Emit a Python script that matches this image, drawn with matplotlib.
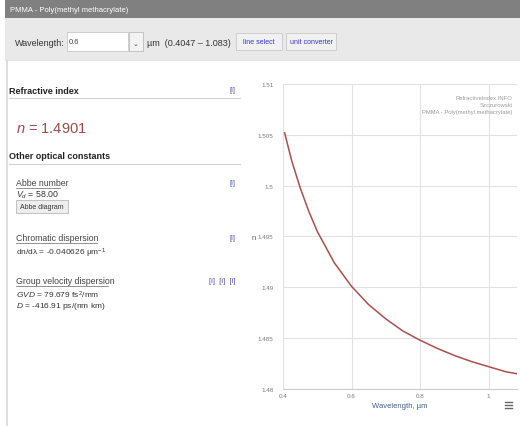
import matplotlib
matplotlib.use("Agg")
import matplotlib.pyplot as plt
from matplotlib.patches import Rectangle
from matplotlib import font_manager as fm

# ---------------- data ----------------
wavelength = [0.4047, 0.425, 0.45, 0.475, 0.5, 0.55, 0.6, 0.65, 0.7, 0.75,
              0.8, 0.85, 0.9, 0.95, 1.0, 1.05, 1.083]
n_values = [1.5052, 1.5025, 1.4998, 1.4975, 1.4955, 1.4924, 1.4901, 1.4883,
            1.4869, 1.4857, 1.4848, 1.4840, 1.4833, 1.4827, 1.4822, 1.4817, 1.4815]
y_ticks = [1.48, 1.485, 1.49, 1.495, 1.5, 1.505, 1.51]
y_tick_labels = ["1.48", "1.485", "1.49", "1.495", "1.5", "1.505", "1.51"]
x_ticks = [0.4, 0.6, 0.8, 1.0]
x_tick_labels = ["0.4", "0.6", "0.8", "1"]

# ---------------- fonts ----------------
def pick(names):
    for nm in names:
        try:
            fm.findfont(nm, fallback_to_default=False)
            return nm
        except Exception:
            pass
    return "DejaVu Sans"

FONT = pick(["Liberation Sans Narrow", "Liberation Sans", "DejaVu Sans"])
plt.rcParams['font.family'] = [FONT, 'DejaVu Sans']
plt.rcParams['mathtext.fontset'] = 'custom'
plt.rcParams['mathtext.rm'] = FONT
plt.rcParams['mathtext.it'] = FONT + ':italic'
plt.rcParams['mathtext.bf'] = FONT + ':bold'

W, H = 520, 427
fig = plt.figure(figsize=(W / 100, H / 100), dpi=100)
fig.patch.set_facecolor("white")

# page background axes in pixel coordinates
bg = fig.add_axes([0, 0, 1, 1])
bg.set_xlim(0, W)
bg.set_ylim(H, 0)
bg.axis("off")

# title bar
bg.add_patch(Rectangle((5, 1), W - 5, 18, color="#808080", lw=0))
bg.text(10, 10, "PMMA - Poly(methyl methacrylate)", color="white", fontsize=5.5,
        va="center", ha="left")
# wavelength toolbar
bg.add_patch(Rectangle((5, 19), W - 5, 43, color="#e9e9e9", lw=0))
bg.text(15, 43, "Wavelength:", fontsize=6.5, va="center", ha="left", color="#333333")
bg.add_patch(Rectangle((67, 33), 61, 19, facecolor="white", edgecolor="#c8c8c8", lw=0.6))
bg.text(69, 43, "0.6", fontsize=5.5, va="center", ha="left", color="#444444")
bg.add_patch(Rectangle((129, 33), 14, 19, facecolor="#f3f3f3", edgecolor="#bbbbbb", lw=0.6))
bg.text(136, 44, "\u2304", fontsize=5, va="center", ha="center", color="#444444",
        family=['DejaVu Sans'])
bg.text(147, 43, "\u00b5m  (0.4047 \u2013 1.083)", fontsize=6.5, va="center", ha="left",
        color="#333333")
bg.add_patch(Rectangle((236, 34), 46, 17, facecolor="#f1f1f1", edgecolor="#c8c8c8", lw=0.6))
bg.text(259, 42.5, "line select", fontsize=5, va="center", ha="center", color="#3333cc")
bg.add_patch(Rectangle((286, 34), 50, 17, facecolor="#f1f1f1", edgecolor="#c8c8c8", lw=0.6))
bg.text(311, 42.5, "unit converter", fontsize=5, va="center", ha="center", color="#3333cc")

# left panel border
bg.plot([7, 7], [62, H], color="#d8d8d8", lw=1.2)

# Refractive index section
bg.text(9, 91, "Refractive index", fontsize=6.5, fontweight="bold", va="center",
        ha="left", color="#222222")
bg.text(233, 91, "[i]", fontsize=5.5, va="center", ha="center", color="#5555bb")
bg.plot([9, 240], [98.5, 98.5], color="#cfcfcf", lw=0.7)
bg.text(16, 129, "$n$ = 1.4901", fontsize=10.5, va="center", ha="left", color="#a04a44")

bg.text(9, 157, "Other optical constants", fontsize=6.5, fontweight="bold", va="center",
        ha="left", color="#222222")
bg.plot([9, 240], [164.5, 164.5], color="#cfcfcf", lw=0.7)

# Abbe number
bg.text(16, 184, "Abbe number", fontsize=6.3, va="center", ha="left", color="#444444")
bg.plot([16, 60], [189, 189], color="#666666", lw=0.5)
bg.text(233, 184, "[i]", fontsize=5.5, va="center", ha="center", color="#5555bb")
bg.text(16, 195, "$V_d$ = 58.00", fontsize=6.3, va="center", ha="left", color="#333333")
bg.add_patch(Rectangle((16, 201), 52, 13, facecolor="#eeeeee", edgecolor="#b8b8b8", lw=0.6))
bg.text(42, 207.5, "Abbe diagram", fontsize=5, va="center", ha="center", color="#333333")

# Chromatic dispersion
bg.text(16, 239, "Chromatic dispersion", fontsize=6.3, va="center", ha="left", color="#444444")
bg.plot([16, 97], [244, 244], color="#666666", lw=0.5)
bg.text(233, 239, "[i]", fontsize=5.5, va="center", ha="center", color="#5555bb")
bg.text(16, 253, "dn/d\u03bb = -0.040626 \u00b5m$^{-1}$", fontsize=6.0, va="center",
        ha="left", color="#333333")

# Group velocity dispersion
bg.text(16, 282, "Group velocity dispersion", fontsize=6.3, va="center", ha="left",
        color="#444444")
bg.plot([16, 108], [287, 287], color="#666666", lw=0.5)
bg.text(222, 282, "[i]  [i]  [i]", fontsize=5.5, va="center", ha="center", color="#5555bb")
bg.text(16, 295, "$GVD$ = 79.679 fs$^2$/mm", fontsize=6.0, va="center", ha="left",
        color="#333333")
bg.text(16, 307, "$D$ = -416.91 ps/(nm km)", fontsize=6.0, va="center", ha="left",
        color="#333333")

# chart-area extras
bg.text(254, 239, "n", fontsize=5.5, va="center", ha="center", color="#3f5f8f")
bg.text(400, 407, "Wavelength, \u00b5m", fontsize=5.5, va="center", ha="center",
        color="#3f5f8f")
for yy in (403, 406, 409):
    bg.plot([505, 512], [yy, yy], color="#666666", lw=1.0)

# ---------------- chart ----------------
left, right, top, bottom = 283, 517, 85, 390
ax = fig.add_axes([left / W, 1 - bottom / H, (right - left) / W, (bottom - top) / H])
ax.set_facecolor("white")
ax.plot(wavelength, n_values, color="#a8504c", lw=1.1)
ax.set_xlim(0.4, 1.083)
ax.set_ylim(1.48, 1.51)
ax.set_xticks(x_ticks)
ax.set_xticklabels(x_tick_labels)
ax.set_yticks(y_ticks)
ax.set_yticklabels(y_tick_labels)
ax.grid(True, color="#e2e2e2", lw=0.8)
ax.set_axisbelow(True)
for s in ("top", "right", "left"):
    ax.spines[s].set_visible(False)
ax.spines["bottom"].set_color("#cccccc")
ax.spines["bottom"].set_linewidth(0.8)
ax.tick_params(axis="y", length=0, labelsize=4.5, labelcolor="#777777", pad=7)
ax.tick_params(axis="x", length=0, labelsize=4.5, labelcolor="#777777", pad=3)
ax.text(0.98, 0.965, "RefractiveIndex.INFO\nSzczurowski\nPMMA - Poly(methyl methacrylate)",
        transform=ax.transAxes, ha="right", va="top", fontsize=4.2, color="#999999",
        linespacing=1.5)

fig.savefig("out.png", dpi=100, facecolor="white")
